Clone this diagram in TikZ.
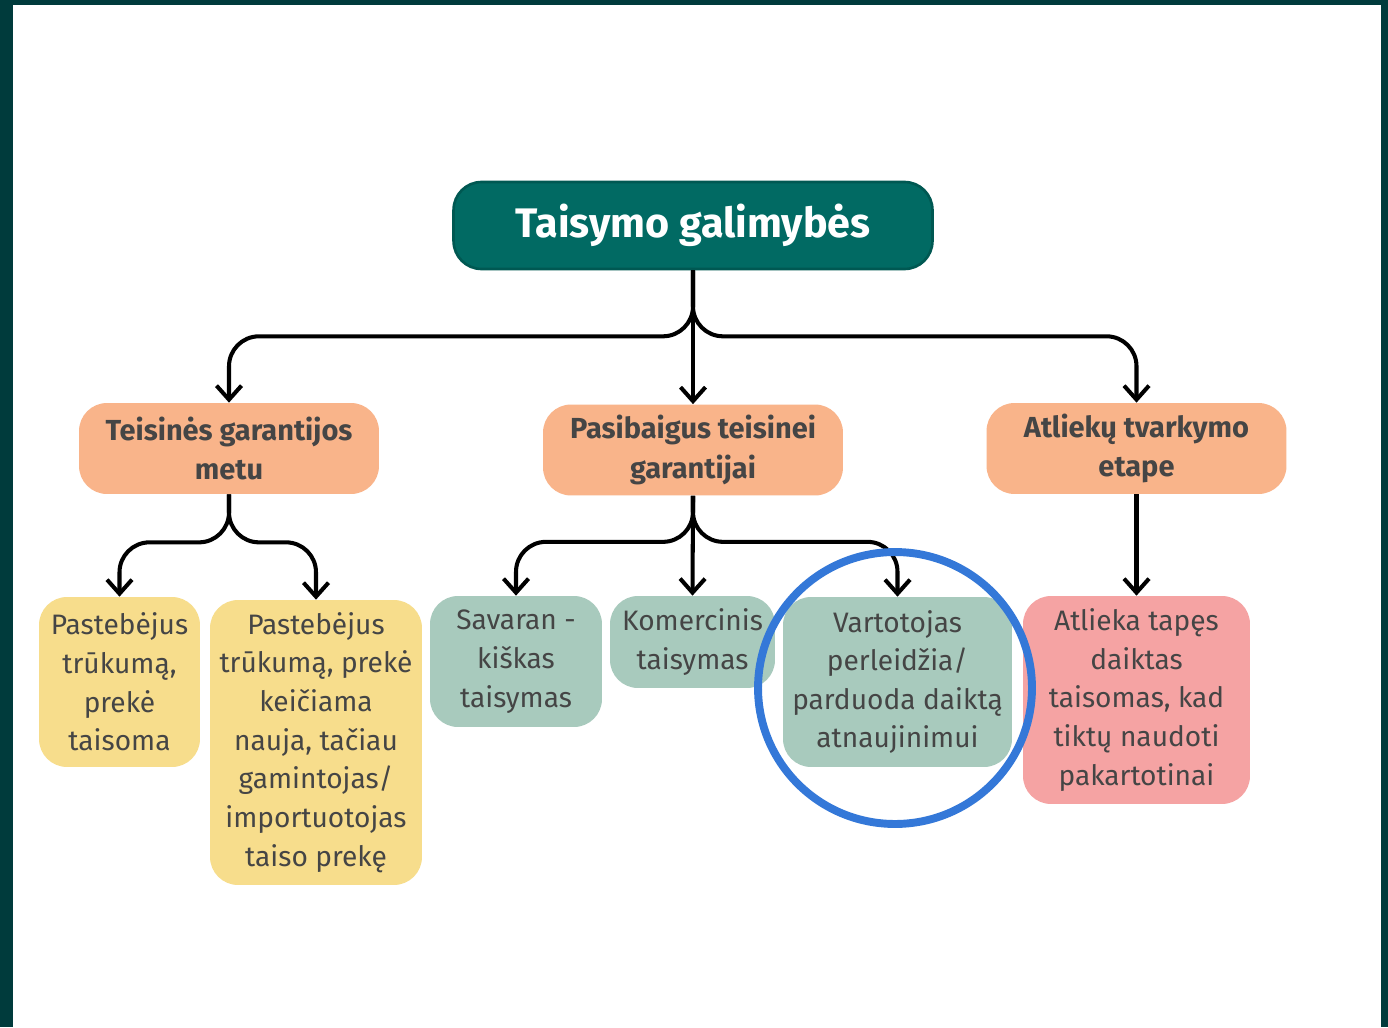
\documentclass[tikz,border=0pt]{standalone}
\usepackage{fontspec}
\setmainfont{Fira Sans}
\usepackage{xcolor}
\usetikzlibrary{arrows.meta}

\definecolor{framecol}{HTML}{003B3C}
\definecolor{titlefill}{HTML}{016A63}
\definecolor{titledraw}{HTML}{005852}
\definecolor{peach}{HTML}{F9B48A}
\definecolor{yellowbox}{HTML}{F7DD8C}
\definecolor{greenbox}{HTML}{A8CABD}
\definecolor{pinkbox}{HTML}{F5A3A3}
\definecolor{txtgray}{HTML}{454545}
\definecolor{ringblue}{HTML}{3478D8}

\begin{document}
\begin{tikzpicture}[x=0.02cm, y=-0.02cm,
    box/.style={rounded corners=0.56cm, inner sep=0pt, align=center, text=txtgray},
    headbox/.style={box, fill=peach, minimum width=6cm, minimum height=1.82cm, font=\fontsize{16.5}{22.5}\selectfont\bfseries},
    leafbox/.style={box, font=\fontsize{16}{22}\selectfont},
    link/.style={line width=2.3pt, rounded corners=0.6cm, -{Straight Barb[length=2.8mm,width=5mm]}}]
    \fill[framecol] (0, 0) rectangle (1388, 1027);
    \fill[white] (13, 5) rectangle (1381, 1027);
    \useasboundingbox (0, 0) rectangle (1388, 1027);

    \node[box, fill=titlefill, draw=titledraw, line width=1.5pt, text=white, minimum width=9.58cm, minimum height=1.74cm, font=\fontsize{23.5}{28}\selectfont\bfseries] (title) at (693, 225.5) {Taisymo galimybės};

    \node[headbox] (teis) at (229, 448.5) {Teisinės garantijos\\metu};
    \node[headbox] (pasib) at (693, 450) {Pasibaigus teisinei\\garantijai};
    \node[headbox] (atliek) at (1136.5, 448.5) {Atliekų tvarkymo\\etape};

    \node[leafbox, fill=yellowbox, minimum width=3.22cm, minimum height=3.4cm] (y1) at (119.5, 682) {Pastebėjus\\trūkumą,\\prekė\\taisoma};
    \node[leafbox, fill=yellowbox, minimum width=4.24cm, minimum height=5.7cm] (y2) at (316, 742.5) {Pastebėjus\\trūkumą, prekė\\keičiama\\nauja, tačiau\\gamintojas/\\importuotojas\\taiso prekę};
    \node[leafbox, fill=greenbox, minimum width=3.44cm, minimum height=2.62cm] (g1) at (516, 661.5) {Savaran -\\kiškas\\taisymas};
    \node[leafbox, fill=greenbox, minimum width=3.3cm, minimum height=1.84cm] (g2) at (692.5, 642) {Komercinis\\taisymas};
    \node[leafbox, fill=greenbox, minimum width=4.58cm, minimum height=3.4cm] (g3) at (897.5, 682) {Vartotojas\\perleidžia/\\parduoda daiktą\\atnaujinimui};
    \node[leafbox, fill=pinkbox, minimum width=4.54cm, minimum height=4.16cm] (pink) at (1136.5, 700) {Atlieka tapęs\\daiktas\\taisomas, kad\\tiktų naudoti\\pakartotinai};

    \draw[link] (title.south) -- ++(0, 66) -| (teis.north);
    \draw[link] (title.south) -- (pasib.north);
    \draw[link] (title.south) -- ++(0, 66) -| (atliek.north);

    \draw[link] (teis.south) -- ++(0, 48) -| (y1.north);
    \draw[link] (teis.south) -- ++(0, 48) -| (y2.north);

    \draw[link] (pasib.south) -- ++(0, 46) -| (g1.north);
    \draw[link] (pasib.south) -- (g2.north);
    \draw[link] (pasib.south) -- ++(0, 46) -| (g3.north);

    \draw[link] (atliek.south) -- (pink.north);

    \draw[ringblue, line width=4.5pt] (895, 688) ellipse [x radius=2.74cm, y radius=2.72cm];
\end{tikzpicture}
\end{document}
